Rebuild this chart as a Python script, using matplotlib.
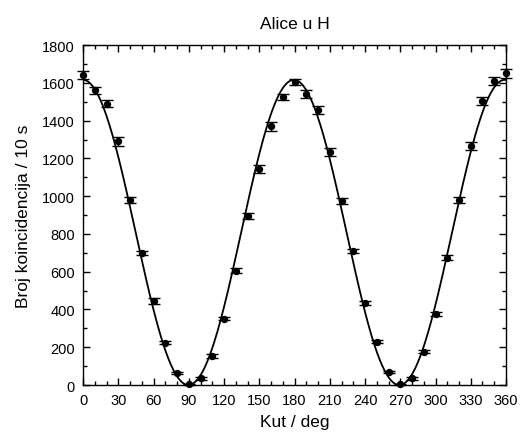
import numpy as np
import matplotlib
matplotlib.use("Agg")
import matplotlib.pyplot as plt
from matplotlib.ticker import MultipleLocator

plt.rcParams['font.family'] = ['Liberation Sans', 'DejaVu Sans']

angles = [0, 10, 20, 30, 40, 50, 60, 70, 80, 90, 100, 110, 120, 130, 140, 150, 160, 170, 180,
          190, 200, 210, 220, 230, 240, 250, 260, 270, 280, 290, 300, 310, 320, 330, 340, 350, 360]
counts = [1642, 1560, 1490, 1290, 980, 700, 445, 225, 65, 5, 35, 155, 350, 605, 895, 1145, 1370, 1525, 1605,
          1540, 1455, 1235, 975, 710, 435, 230, 70, 3, 35, 175, 375, 675, 980, 1265, 1505, 1610, 1650]
errors = [22, 20, 20, 22, 18, 12, 14, 8, 6, 3, 6, 10, 8, 14, 14, 22, 25, 18, 14,
          20, 22, 22, 16, 10, 10, 8, 6, 3, 6, 8, 10, 12, 16, 20, 20, 20, 22]

fit_amp = 1616.0
fit_period = 179.6
fit_shift = -0.2

fig = plt.figure(figsize=(5.2, 4.35), dpi=100)
ax = fig.add_axes([0.16, 0.1126, 0.813, 0.7814])

xs = np.linspace(0, 360, 721)
ax.plot(xs, fit_amp * np.cos(np.radians((xs - fit_shift) * 180.0 / fit_period)) ** 2,
        color='black', lw=1.3)
ax.errorbar(angles, counts, yerr=errors, fmt='o', color='black', ms=4.3, capsize=4,
            elinewidth=1, capthick=1, clip_on=False, zorder=3)

ax.set_xlim(0, 360)
ax.set_ylim(0, 1800)
ax.xaxis.set_major_locator(MultipleLocator(30))
ax.xaxis.set_minor_locator(MultipleLocator(10))
ax.yaxis.set_major_locator(MultipleLocator(200))
ax.yaxis.set_minor_locator(MultipleLocator(100))
ax.tick_params(which='both', direction='in', top=True, right=True, labelsize=10.5)
ax.tick_params(axis='x', which='major', pad=6)
ax.tick_params(axis='y', which='major', pad=6)
ax.tick_params(which='major', length=5, width=1)
ax.tick_params(which='minor', length=3, width=1)
for s in ax.spines.values():
    s.set_linewidth(1)

ax.set_xlabel('Kut / deg', fontsize=12.5, labelpad=5)
ax.set_ylabel('Broj koincidencija / 10 s', fontsize=12.5, labelpad=8)
ax.set_title('Alice u H', fontsize=12.5, pad=12)

fig.savefig('out.png', dpi=100)
